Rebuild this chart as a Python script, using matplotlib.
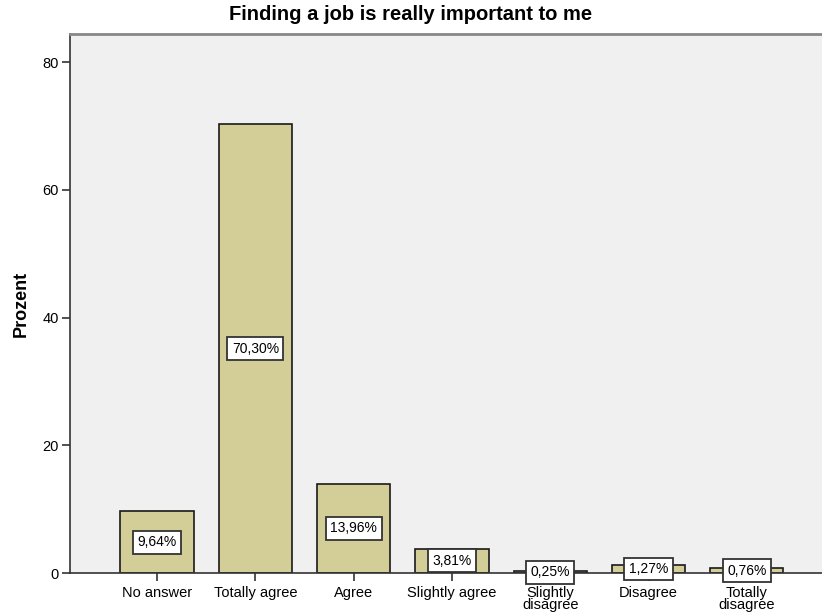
import matplotlib.pyplot as plt

categories = ['No answer', 'Totally agree', 'Agree', 'Slightly agree',
              'Slightly\ndisagree', 'Disagree', 'Totally\ndisagree']
percents = [9.64, 70.30, 13.96, 3.81, 0.25, 1.27, 0.76]
labels = ['9,64%', '70,30%', '13,96%', '3,81%', '0,25%', '1,27%', '0,76%']

plt.rcParams['font.family'] = ['Liberation Sans', 'DejaVu Sans']

fig = plt.figure(figsize=(8.22, 6.16), dpi=100)
ax = fig.add_axes([0.0852, 0.0698, 0.9148, 0.875])
ax.set_facecolor('#F0F0F0')

x = range(len(categories))
ax.bar(x, percents, width=0.746, color='#D3CE97', edgecolor='#1a1a1a', linewidth=1.2, zorder=2)

# value labels in white boxes at the middle of each bar
for i, (v, lab) in enumerate(zip(percents, labels)):
    ax.text(i, v / 2, lab, ha='center', va='center', fontsize=10, zorder=3,
            bbox=dict(boxstyle='square,pad=0.32', facecolor='white', edgecolor='#333333', linewidth=1.3))

ax.set_xlim(-0.885, 6.765)
ax.set_ylim(0, 84.4)
ax.set_yticks([0, 20, 40, 60, 80])
ax.set_xticks(list(x))
ax.set_xticklabels(categories, fontsize=10.5, linespacing=0.9)
ax.tick_params(axis='y', labelsize=10.5, length=6, width=1.2, color='#333333', pad=2)
ax.tick_params(axis='x', length=6, width=1.2, color='#333333', pad=3)

ax.spines['right'].set_visible(False)
ax.spines['top'].set_color('#888888')
ax.spines['top'].set_linewidth(2)
ax.spines['left'].set_color('#333333')
ax.spines['bottom'].set_color('#333333')
ax.spines['left'].set_linewidth(1.2)
ax.spines['bottom'].set_linewidth(1.2)

ax.set_ylabel('Prozent', fontsize=13, fontweight='bold')
ax.yaxis.set_label_coords(-0.054, 0.5)
fig.text(0.5, 0.977, 'Finding a job is really important to me', ha='center', va='center',
         fontsize=14.5, fontweight='bold')

fig.savefig('out.png', dpi=100)
